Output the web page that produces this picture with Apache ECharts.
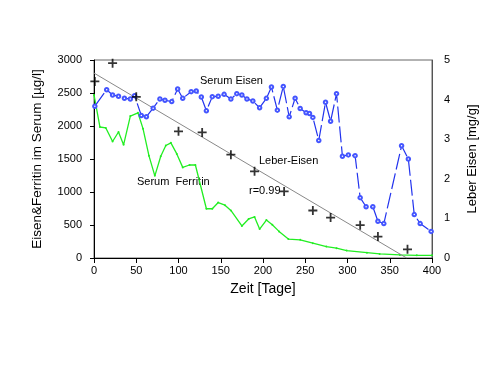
<!DOCTYPE html>
<html>
<head>
<meta charset="utf-8">
<script src="https://cdn.jsdelivr.net/npm/echarts@6/dist/echarts.min.js"></script>
<style>html,body{margin:0;padding:0;background:#fff;}#c{width:500px;height:385px;}</style>
</head>
<body>
<div id="c"></div>
<script>
// Serum Eisen [µg/l] (day, value)
var eisenDays = [1,15,22,29,36,43,48,56,62,70,78,84,92,99,105,115,121,127,133,140,147,154,162,169,175,181,188,196,204,210,217,224,231,238,244,251,255,259,266,274,280,287,294,301,309,315,322,330,336,343,364,372,379,386,399];
var eisenVals = [2300,2550,2470,2450,2420,2410,2460,2160,2140,2270,2410,2390,2370,2560,2420,2520,2530,2440,2230,2445,2450,2480,2408,2490,2470,2410,2378,2277,2419,2590,2240,2600,2139,2420,2266,2200,2189,2130,1781,2360,2072,2490,1542,1562,1551,914,776,776,556,521,1700,1500,658,521,403];
// Serum Ferritin [µg/l]
var ferrDays = [0,7,14,22,29,35,43,52,58,65,72,79,85,91,98,105,113,120,133,140,147,155,162,175,183,190,196,204,211,219,230,244,259,275,287,299,323,338,362,382,400];
var ferrVals = [2470,1985,1970,1765,1909,1715,2150,2200,1960,1551,1245,1542,1704,1745,1577,1373,1409,1409,746,746,840,800,720,485,592,623,439,575,505,403,286,276,225,173,148,112,81,61,46,41,41];
// Leber-Eisen [mg/g]
var leberDays = [1,22,50,100,128,162,190,225,259,280,315,336,371];
var leberVals = [4.46,4.92,4.07,3.20,3.17,2.61,2.19,1.68,1.20,1.02,0.83,0.54,0.22];
// Regression line (r=0.99)
var regDays = [0,370];
var regVals = [4.67,0];

var xTicks = [0,50,100,150,200,250,300,350,400];
var leftTicks = [0,500,1000,1500,2000,2500,3000];
var rightTicks = [0,1,2,3,4,5];

function zip(a,b){return a.map(function(v,i){return [v,b[i]];});}

var chart = echarts.init(document.getElementById('c'), null, {renderer:'canvas'});
var font = 'Liberation Sans, Arial, sans-serif';
chart.setOption({
  animation:false,
  backgroundColor:'#fff',
  grid:{left:94,right:68,top:60,bottom:127,show:true,borderColor:'#666',borderWidth:1},
  xAxis:{
    type:'value',min:xTicks[0],max:xTicks[xTicks.length-1],interval:50,
    name:'Zeit [Tage]',nameLocation:'middle',nameGap:24,
    nameTextStyle:{fontFamily:font,fontSize:14,color:'#000'},
    axisLine:{lineStyle:{color:'#000',width:1}},
    axisTick:{show:true,inside:false,length:5,lineStyle:{color:'#000'}},
    axisLabel:{fontFamily:font,fontSize:11,color:'#000',margin:7,formatter:function(v){return String(v);}},
    splitLine:{show:false}
  },
  yAxis:[{
    type:'value',min:leftTicks[0],max:leftTicks[leftTicks.length-1],interval:500,position:'left',
    name:'Eisen&Ferritin im Serum [µg/l]',nameLocation:'middle',nameGap:50,
    nameTextStyle:{fontFamily:font,fontSize:13.5,color:'#000'},
    axisLine:{show:true,lineStyle:{color:'#000',width:1}},
    axisTick:{show:true,length:4,lineStyle:{color:'#000'}},
    axisLabel:{fontFamily:font,fontSize:11,color:'#000',margin:12,formatter:function(v){return String(v);}},
    splitLine:{show:false}
  },{
    type:'value',min:rightTicks[0],max:rightTicks[rightTicks.length-1],interval:1,position:'right',
    name:'Leber Eisen [mg/g]',nameLocation:'middle',nameGap:34,nameRotate:90,
    nameTextStyle:{fontFamily:font,fontSize:13,color:'#000'},
    axisLine:{show:true,lineStyle:{color:'#555',width:1}},
    axisTick:{show:false},
    axisLabel:{fontFamily:font,fontSize:11,color:'#000',margin:12,formatter:function(v){return String(v);}},
    splitLine:{show:false}
  }],
  series:[{
    name:'Serum Ferritin',type:'line',yAxisIndex:0,data:zip(ferrDays,ferrVals),
    symbol:'circle',symbolSize:2,showSymbol:true,showAllSymbol:true,
    lineStyle:{color:'#22ee22',width:1.3},itemStyle:{color:'#22ee22'},z:2
  },{
    name:'Regression',type:'line',yAxisIndex:1,data:zip(regDays,regVals),
    symbol:'none',lineStyle:{color:'#888',width:1},z:3
  },{
    name:'Serum Eisen',type:'line',yAxisIndex:0,data:zip(eisenDays,eisenVals),
    symbol:'emptyCircle',symbolSize:3.5,showSymbol:true,showAllSymbol:true,
    lineStyle:{color:'#2233ee',width:1.2,type:[16,4]},
    itemStyle:{color:'#4455ff',borderWidth:0.8},z:4
  },{
    name:'Leber-Eisen',type:'scatter',yAxisIndex:1,data:zip(leberDays,leberVals),
    symbol:'path://M4,0H6V4H10V6H6V10H4V6H0V4H4Z',symbolSize:9,
    itemStyle:{color:'#000'},z:5
  }],
  graphic:[
    {type:'text',left:200,top:75,style:{text:'Serum Eisen',fontFamily:font,fontSize:11,fill:'#000'}},
    {type:'text',left:259,top:155,style:{text:'Leber-Eisen',fontFamily:font,fontSize:11,fill:'#000'}},
    {type:'text',left:137,top:176,style:{text:'Serum  Ferritin',fontFamily:font,fontSize:11,fill:'#000'}},
    {type:'text',left:249,top:185,style:{text:'r=0.99',fontFamily:font,fontSize:11,fill:'#000'}}
  ]
});
</script>
</body>
</html>
